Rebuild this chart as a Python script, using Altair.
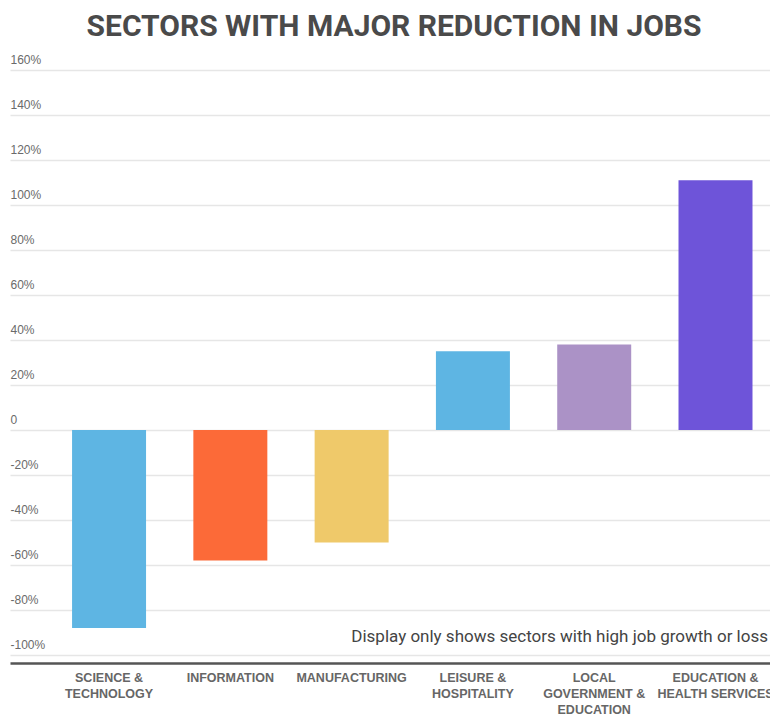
import altair as alt
import pandas as pd

sectors = [
    "SCIENCE &|TECHNOLOGY",
    "INFORMATION",
    "MANUFACTURING",
    "LEISURE &|HOSPITALITY",
    "LOCAL|GOVERNMENT &|EDUCATION",
    "EDUCATION &|HEALTH SERVICES",
]
changes = [-88, -58, -50, 35, 38, 111]
colors = ["#5eb5e3", "#fc6a38", "#efc96a", "#5eb5e3", "#ab92c6", "#6e54d9"]
y_ticks = [-100, -80, -60, -40, -20, 0, 20, 40, 60, 80, 100, 120, 140, 160]
title_text = "SECTORS WITH MAJOR REDUCTION IN JOBS"
note_text = "Display only shows sectors with high job growth or loss"

df = pd.DataFrame({"sector": sectors, "change": changes, "color": colors})

bars = alt.Chart(df).mark_bar().encode(
    x=alt.X(
        "sector:N",
        sort=sectors,
        scale=alt.Scale(paddingInner=0.39, paddingOuter=0.328, align=0.78),
        axis=alt.Axis(
            title=None,
            labelExpr="split(datum.label, '|')",
            labelAngle=0,
            labelFont="Liberation Sans",
            labelFontSize=12.5,
            labelFontWeight="bold",
            labelColor="#666666",
            labelPadding=8,
            labelLineHeight=16,
            labelBaseline="top",
            labelLimit=0,
            labelOverlap=False,
            domainColor="#555555",
            domainWidth=2.5,
            ticks=False,
            tickSize=0,
            grid=False,
        ),
    ),
    y=alt.Y(
        "change:Q",
        scale=alt.Scale(domain=[-103.5, 160], nice=False, zero=False),
        axis=alt.Axis(
            values=y_ticks,
            title=None,
            labelExpr="datum.value == 0 ? '0' : datum.value + '%'",
            labelAlign="left",
            labelBaseline="bottom",
            labelPadding=0,
            labelOffset=-4,
            labelFont="Liberation Sans",
            labelFontSize=12,
            labelColor="#6a6a6a",
            ticks=False,
            tickSize=0,
            domain=False,
            gridColor="#e6e6e6",
            gridWidth=1.5,
        ),
    ),
    color=alt.Color("color:N", scale=None),
)

note = alt.Chart(pd.DataFrame({"note": [note_text]})).mark_text(
    align="right", baseline="alphabetic", font="Roboto", fontSize=17, color="#444444"
).encode(x=alt.value(758), y=alt.value(572), text="note:N")

chart = alt.layer(bars, note).properties(
    width=760,
    height=593,
    title=alt.TitleParams(
        title_text,
        font="Roboto",
        fontSize=30,
        fontWeight="bold",
        color="#4a4a4a",
        anchor="middle",
        offset=11,
        dx=4,
    ),
    autosize=alt.AutoSizeParams(type="none"),
    padding={"left": 10, "top": 70, "right": 0, "bottom": 52},
).configure_view(stroke=None)

chart.save("out.html", embed_options={"renderer": "svg", "actions": False})
